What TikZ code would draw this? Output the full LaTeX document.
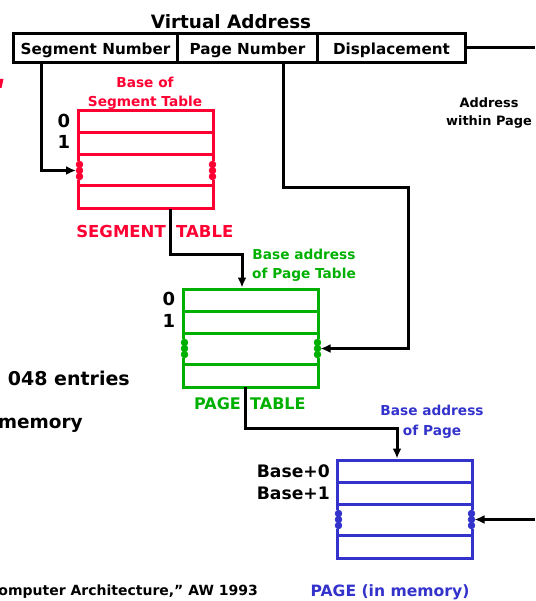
\documentclass[tikz,border=0pt]{standalone}
\usepackage{fontspec}
\setmainfont{DejaVu Sans}
\usetikzlibrary{arrows.meta}
\definecolor{segred}{RGB}{255,0,51}
\definecolor{pggreen}{RGB}{0,176,0}
\definecolor{pgblue}{RGB}{51,51,204}
\tikzset{
  txt/.style={inner sep=0pt, text height=1.1em, text depth=0.05em, font=\bfseries\fontsize{#1}{#1}\selectfont},
  field/.style={draw, line width=3pt, minimum height=29pt, inner sep=0pt, anchor=west,
                text height=1.4em, text depth=0.04em, font=\bfseries\fontsize{15.2}{15.2}\selectfont},
  wire/.style={line width=3pt, black, -{Latex[length=10pt,width=9pt]}},
  plain/.style={line width=3pt, black},
  memtable/.pic={
    \begin{scope}[line width=3pt]
    \draw (0,0) rectangle (135,44);
    \draw (0,22) -- (135,22);
    \draw (0,44) -- (0,50) (135,44) -- (135,50);
    \foreach \yy in {53.5,59.5,65.5} {
      \filldraw[line width=0.8pt] (1.5,\yy) circle (3.3pt);
      \filldraw[line width=0.8pt] (134.5,\yy) circle (3.3pt);
    }
    \draw (0,69) -- (0,75) (135,69) -- (135,75);
    \draw (0,75) rectangle (135,98);
    \end{scope}
    \coordinate (-l) at (-2,59.5);
    \coordinate (-r) at (137.5,59.5);
  }
}
\begin{document}
\begin{tikzpicture}[x=1pt,y=-1pt]
\useasboundingbox (0,0) rectangle (535,601);

% Virtual address
\node[txt=18.4] (vatitle) at (231,23) {Virtual Address};
\node[field, minimum width=164pt] (vaseg) at (12,48) {Segment Number};
\node[field, minimum width=140pt] (vapn) at (176,48) {Page Number};
\node[field, minimum width=148pt] (vadisp) at (316,48) {Displacement};
\coordinate (dispend) at (535,48);
\draw[plain] (vadisp.east) -- (dispend);

\node[txt=12.9] (awp1) at (489,102) {Address};
\node[txt=12.9] (awp2) at (489,120) {within Page};

% cut-off margin texts
\fill[segred] (0,79) -- (3.5,79) -- (1.5,88) -- (0,88) -- cycle;
\node[txt=19, anchor=east] (entries) at (130,380) {048 entries};
\node[txt=18.5, anchor=east] (memtxt) at (83,423) {memory};
\node[txt=14, anchor=east] (cite) at (258,590) {omputer Architecture,” AW 1993};

% Segment table
\node[txt=13.7, text=segred] (segbase1) at (145,82) {Base of};
\node[txt=13.7, text=segred] (segbase2) at (145,101) {Segment Table};
\pic[color=segred] (seg) at (78,111) {memtable};
\node[txt=18] (s0) at (64,122) {0};
\node[txt=18] (s1) at (64,143) {1};
\node[txt=16.5, text=segred, anchor=east] (segl1) at (166,232) {SEGMENT};
\node[txt=16.5, text=segred, anchor=west] (segl2) at (176,232) {TABLE};

% Page table
\node[txt=13.7, text=pggreen] (ptbase1) at (304,254) {Base address};
\node[txt=13.7, text=pggreen] (ptbase2) at (304,273) {of Page Table};
\pic[color=pggreen] (pt) at (183,289) {memtable};
\node[txt=18] (p0) at (169,300) {0};
\node[txt=18] (p1) at (169,322) {1};
\node[txt=16, text=pggreen, anchor=east] (ptl1) at (241,404) {PAGE};
\node[txt=16, text=pggreen, anchor=west] (ptl2) at (250,404) {TABLE};

% Page
\node[txt=13.7, text=pgblue] (pgbase1) at (432,410) {Base address};
\node[txt=13.7, text=pgblue] (pgbase2) at (432,430) {of Page};
\pic[color=pgblue] (pg) at (337,460) {memtable};
\node[txt=17.2, anchor=east] (b0) at (330,472) {Base+0};
\node[txt=17.2, anchor=east] (b1) at (330,494) {Base+1};
\node[txt=15.6, text=pgblue] (pglbl) at (390,591) {PAGE (in memory)};

% connectors
\coordinate (c1) at (41,62.5);
\draw[wire] (c1) |- (seg-l);

\coordinate (c2) at (283,62.5);
\coordinate (c2b) at (283,188);
\coordinate (c2c) at (408,188);
\draw[wire] (c2) -- (c2b) -- (c2c) |- (pt-r);

\coordinate (c3) at (170,209);
\coordinate (c3b) at (170,254);
\coordinate (c3t) at (242,287.5);
\draw[wire] (c3) -- (c3b) -| (c3t);

\coordinate (c4) at (245,387);
\coordinate (c4b) at (245,428);
\coordinate (c4t) at (397,458.5);
\draw[wire] (c4) -- (c4b) -| (c4t);

\coordinate (c5) at (535,519.5);
\draw[wire] (c5) -- (pg-r);
\end{tikzpicture}
\end{document}
